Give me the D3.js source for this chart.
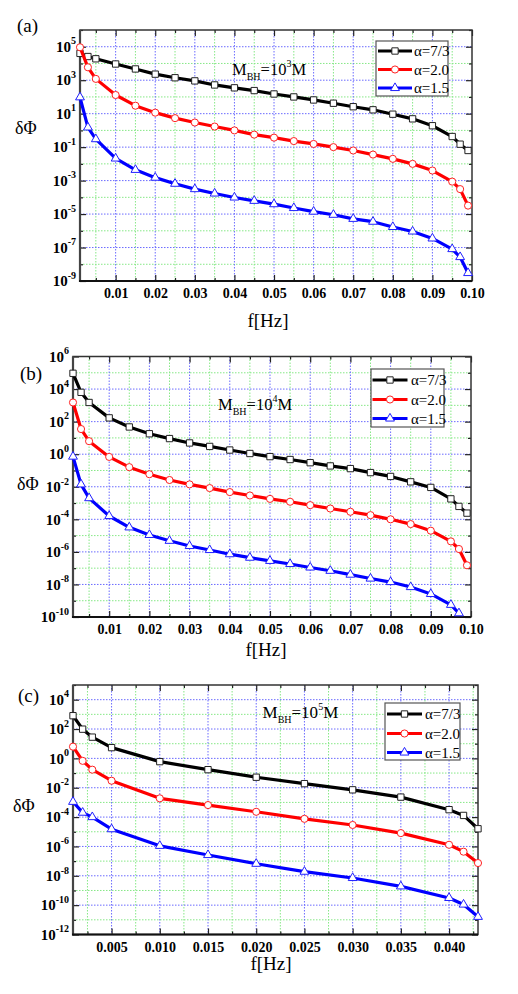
<!DOCTYPE html>
<html><head><meta charset="utf-8">
<script src="https://cdn.jsdelivr.net/npm/d3@7/dist/d3.min.js"></script>
<style>
body{margin:0;background:#fff;}
svg{display:block;font-family:"Liberation Serif","Times New Roman",serif;}
</style>
</head><body>
<svg id="c" width="518" height="994" font-family="Liberation Serif, serif"></svg>
<script>
// ---------------- DATA ----------------
const seriesNames = ["α=7/3", "α=2.0", "α=1.5"];

// panels (a) and (b) share the frequency grid
const freqAB = [0.001,0.003,0.005,0.01,0.015,0.02,0.025,0.03,0.035,0.04,0.045,0.05,0.055,0.06,0.065,0.07,0.075,0.08,0.085,0.09,0.095,0.097,0.099];
const freqC  = [0.001,0.002,0.003,0.005,0.01,0.015,0.02,0.025,0.03,0.035,0.04,0.0415,0.043];

// (a) M_BH = 10^3 M
const a_73 = [4.0e4,2.6e4,1.9e4,9.3e3,4.7e3,2.3e3,1.4e3,910,520,350,240,150,100,66,42,26,17,9.3,4.9,1.9,0.43,0.15,0.063];
const a_20 = [9.3e4,5.9e3,1.2e3,130,30,11.5,5.4,2.95,1.7,1.0,0.56,0.37,0.23,0.155,0.1,0.063,0.036,0.02,0.01,4.0e-3,8.7e-4,3.1e-4,3.2e-5];
const a_15 = [95,1.5,0.30,0.021,4.4e-3,1.5e-3,6.5e-4,3.1e-4,1.7e-4,9.8e-5,6.2e-5,3.9e-5,2.3e-5,1.4e-5,9.1e-6,5.2e-6,3.5e-6,1.7e-6,9.1e-7,3.5e-7,8.1e-8,2.7e-8,3.0e-9];

// (b) M_BH = 10^4 M
const b_73 = [9.3e4,6.3e3,1.5e3,170,47,18,9.1,4.9,3.0,1.8,1.1,0.71,0.47,0.30,0.19,0.13,0.074,0.043,0.020,9.1e-3,1.8e-3,6.2e-4,2.4e-4];
const b_20 = [1.5e3,35,6.3,0.68,0.16,0.059,0.026,0.014,8.3e-3,4.7e-3,2.9e-3,1.8e-3,1.2e-3,7.4e-4,4.6e-4,2.9e-4,1.8e-4,1.0e-4,5.1e-5,2.0e-5,4.4e-6,1.5e-6,1.5e-7];
const b_15 = [0.71,0.014,2.0e-3,1.6e-4,3.2e-5,1.1e-5,4.8e-6,2.3e-6,1.3e-6,7.2e-7,4.4e-7,2.8e-7,1.8e-7,1.1e-7,6.9e-8,4.0e-8,2.3e-8,1.4e-8,6.9e-9,2.6e-9,5.6e-10,1.7e-10,null];

// (c) M_BH = 10^5 M
const c_73 = [810,98,28,5.4,0.60,0.17,0.052,0.019,7.2e-3,2.3e-3,3.2e-4,1.3e-4,1.6e-5];
const c_20 = [6.3,0.68,0.17,0.030,1.9e-3,6.6e-4,2.3e-4,7.6e-5,2.9e-5,8.1e-6,1.3e-6,4.4e-7,7.4e-8];
const c_15 = [1.1e-3,2.0e-4,1.0e-4,1.5e-5,1.1e-6,2.6e-7,6.6e-8,1.9e-8,7.1e-9,1.9e-9,3.1e-10,1.1e-10,1.6e-11];

// tick labels
const xTicksAB = [0.01,0.02,0.03,0.04,0.05,0.06,0.07,0.08,0.09,0.10];
const xTicksC  = [0.005,0.010,0.015,0.020,0.025,0.030,0.035,0.040];
const yExpA = [5,3,1,-1,-3,-5,-7,-9];
const yExpB = [6,4,2,0,-2,-4,-6,-8,-10];
const yExpC = [4,2,0,-2,-4,-6,-8,-10,-12];

// ---------------- STYLE ----------------
const FONT = '"Liberation Serif", "Times New Roman", serif';
const colors = ["#000000","#ff0000","#0000ff"];
const markerStroke = ["#222222","#ff2020","#2020ff"];
const symbols = [d3.symbolSquare, d3.symbolCircle, d3.symbolTriangle];
const symSizes = [40, 40, 34];
const gridMajor = "#6a6aff", gridMinor = "#86e886";

const svg = d3.select("#c");
let clipId = 0;

function drawPanel(o) {
  const g = svg.append("g").attr("font-family", FONT);
  const x = d3.scaleLinear().domain(o.xDomain).range([o.left, o.right]);
  const y = d3.scaleLog().domain(o.yDomain).range([o.bottom, o.top]);

  const step = o.xTicks[1] - o.xTicks[0];
  const minorX = [];
  for (let k = -1; k < 60; k++) {
    const v = +(o.xTicks[0] + (k + 0.5) * step).toFixed(6);
    if (v > o.xDomain[0] && v <= o.xDomain[1] + 1e-9) minorX.push(v);
  }
  const e0 = Math.round(Math.log10(o.yDomain[0])), e1 = Math.round(Math.log10(o.yDomain[1]));
  const allDec = d3.range(e0, e1 + 1).map(e => Math.pow(10, e));
  const majorY = o.yExps.map(e => Math.pow(10, e));
  const minorY = allDec.filter(v => !o.yExps.includes(Math.round(Math.log10(v))));

  // grid
  const grid = g.append("g").attr("fill", "none").attr("stroke-width", 1).attr("stroke-dasharray", "1.5,1.5");
  grid.selectAll(".gxm").data(minorX.filter(v => v < o.xDomain[1] - 1e-9)).join("line")
    .attr("x1", d => x(d)).attr("x2", d => x(d)).attr("y1", o.top).attr("y2", o.bottom).attr("stroke", gridMinor);
  grid.selectAll(".gym").data(minorY.filter(v => v > o.yDomain[0] && v < o.yDomain[1])).join("line")
    .attr("x1", o.left).attr("x2", o.right).attr("y1", d => y(d)).attr("y2", d => y(d)).attr("stroke", gridMinor);
  grid.selectAll(".gxM").data(o.xTicks.filter(v => v < o.xDomain[1] - 1e-9)).join("line")
    .attr("class","gxM").attr("x1", d => x(d)).attr("x2", d => x(d)).attr("y1", o.top).attr("y2", o.bottom).attr("stroke", gridMajor);
  grid.selectAll(".gyM").data(majorY.filter(v => v > o.yDomain[0] && v < o.yDomain[1])).join("line")
    .attr("class","gyM").attr("x1", o.left).attr("x2", o.right).attr("y1", d => y(d)).attr("y2", d => y(d)).attr("stroke", gridMajor);

  // axes ticks (inward)
  const axG = g.append("g");
  function ax(gen, tx, ty, vals, size, fmt, pad) {
    const a = gen.tickValues(vals).tickSize(size).tickSizeOuter(0).tickPadding(pad || 3).tickFormat(fmt || "");
    const s = axG.append("g").attr("transform", `translate(${tx},${ty})`).call(a);
    s.attr("font-family", FONT);
    s.select(".domain").remove();
    s.selectAll(".tick line").attr("stroke", "#222").attr("stroke-width", 1.2);
    return s;
  }
  const xb = ax(d3.axisBottom(x), 0, o.bottom, o.xTicks, -6, o.xFmt, 7.5);
  xb.attr("font-size", 14).attr("font-weight", "bold");
  xb.selectAll("text").attr("font-family", FONT).attr("font-weight", "bold")
    .attr("font-size", 14).attr("fill", "#000");
  ax(d3.axisBottom(x), 0, o.bottom, minorX, -3);
  ax(d3.axisTop(x), 0, o.top, o.xTicks, -6);
  ax(d3.axisTop(x), 0, o.top, minorX, -3);
  ax(d3.axisLeft(y), o.left, 0, majorY, -6);
  ax(d3.axisLeft(y), o.left, 0, minorY, -3);
  ax(d3.axisRight(y), o.right, 0, majorY, -6);
  ax(d3.axisRight(y), o.right, 0, minorY, -3);

  // y labels 10^n
  const yl = g.append("g").attr("font-weight", "bold").attr("fill", "#000").attr("font-family", FONT);
  o.yExps.forEach(e => {
    const t = yl.append("text").attr("x", o.left - 4).attr("y", y(Math.pow(10, e)))
      .attr("text-anchor", "end").attr("font-size", 15);
    t.append("tspan").attr("dy", "0.35em").text("10");
    t.append("tspan").attr("dy", "-0.75em").attr("font-size", 10).text(String(e));
  });

  // frame
  g.append("rect").attr("x", o.left).attr("y", o.top).attr("width", o.right - o.left).attr("height", o.bottom - o.top)
    .attr("fill", "none").attr("stroke", "#333").attr("stroke-width", 1.5);
  g.append("line").attr("x1", o.left).attr("x2", o.left).attr("y1", o.top).attr("y2", o.bottom + 1)
    .attr("stroke", "#444").attr("stroke-width", 2.2);
  g.append("line").attr("x1", o.left - 1).attr("x2", o.right).attr("y1", o.bottom).attr("y2", o.bottom)
    .attr("stroke", "#111").attr("stroke-width", 2.2);

  // clip
  const cid = "clip" + (clipId++);
  g.append("clipPath").attr("id", cid).append("rect")
    .attr("x", o.left - 6).attr("y", o.top).attr("width", o.right - o.left + 12).attr("height", o.bottom - o.top + 6);

  const plot = g.append("g").attr("clip-path", `url(#${cid})`);
  o.series.forEach((vals, i) => {
    const pts = o.freq.map((f, j) => ({ f, v: vals[j] })).filter(d => d.v != null);
    const line = d3.line().x(d => x(d.f)).y(d => y(d.v));
    plot.append("path").datum(pts).attr("d", line).attr("fill", "none")
      .attr("stroke", colors[i]).attr("stroke-width", 3.2).attr("stroke-linejoin", "round");
    plot.selectAll(null).data(pts).join("path")
      .attr("transform", d => `translate(${x(d.f)},${y(d.v)})`)
      .attr("d", d3.symbol().type(symbols[i]).size(symSizes[i]))
      .attr("fill", "#fff").attr("stroke", markerStroke[i]).attr("stroke-width", 1);
  });

  // legend
  const L = o.legend;
  const lg = g.append("g");
  lg.append("rect").attr("x", L.x0).attr("y", L.y0).attr("width", L.x1 - L.x0).attr("height", L.y1 - L.y0)
    .attr("fill", "#fff").attr("stroke", "#555").attr("stroke-width", 1.2);
  seriesNames.forEach((nm, i) => {
    const yy = L.rows[i];
    lg.append("line").attr("x1", L.lx0).attr("x2", L.lx1).attr("y1", yy).attr("y2", yy)
      .attr("stroke", colors[i]).attr("stroke-width", 3.2);
    lg.append("path").attr("transform", `translate(${(L.lx0 + L.lx1) / 2},${yy})`)
      .attr("d", d3.symbol().type(symbols[i]).size(symSizes[i]))
      .attr("fill", "#fff").attr("stroke", markerStroke[i]).attr("stroke-width", 1);
    lg.append("text").attr("x", L.tx).attr("y", yy + 5).attr("font-size", 15).attr("fill", "#000").text(nm);
  });

  // mass annotation
  const m = o.mass;
  const mt = g.append("text").attr("x", m.x).attr("y", m.y).attr("font-size", m.size).attr("fill", "#000");
  mt.append("tspan").text("M");
  mt.append("tspan").attr("font-size", 10).attr("dy", 5).text("BH");
  mt.append("tspan").attr("dy", -5).text("=10");
  mt.append("tspan").attr("font-size", 10).attr("dy", -8).text(m.exp);
  mt.append("tspan").attr("dy", 8).text("M");

  // panel tag and axis titles
  g.append("text").attr("x", o.tag.x).attr("y", o.tag.y).attr("font-size", 19).attr("fill", "#000").text(o.tag.t);
  g.append("text").attr("x", o.ylab.x).attr("y", o.ylab.y).attr("font-size", 18).attr("fill", "#000").text("δΦ");
  g.append("text").attr("x", o.xlab.x).attr("y", o.xlab.y).attr("font-size", 19).attr("fill", "#000")
    .attr("text-anchor", "middle").text("f[Hz]");
}

drawPanel({
  left: 80, right: 472, top: 30, bottom: 281,
  xDomain: [0.001, 0.1], yDomain: [1e-9, 1e6],
  xTicks: xTicksAB, xFmt: d3.format(".2f"), yExps: yExpA,
  freq: freqAB, series: [a_73, a_20, a_15],
  legend: { x0: 376, x1: 448, y0: 41, y1: 96, rows: [51, 69.5, 88], lx0: 378, lx1: 412, tx: 414 },
  mass: { x: 232, y: 75, exp: "3", size: 16.5 },
  tag: { x: 17, y: 32, t: "(a)" },
  ylab: { x: 15, y: 134 },
  xlab: { x: 268, y: 327 }
});

drawPanel({
  left: 73, right: 471, top: 356.5, bottom: 617,
  xDomain: [0.001, 0.1], yDomain: [1e-10, 1e6],
  xTicks: xTicksAB, xFmt: d3.format(".2f"), yExps: yExpB,
  freq: freqAB, series: [b_73, b_20, b_15],
  legend: { x0: 371, x1: 444, y0: 369, y1: 427, rows: [380, 399.5, 418.5], lx0: 372.5, lx1: 407.5, tx: 411 },
  mass: { x: 218, y: 410, exp: "4", size: 16.5 },
  tag: { x: 20, y: 380, t: "(b)" },
  ylab: { x: 17, y: 490 },
  xlab: { x: 266, y: 656 }
});

drawPanel({
  left: 73, right: 478, top: 685, bottom: 934.5,
  xDomain: [0.001, 0.043], yDomain: [1e-12, 1e5],
  xTicks: xTicksC, xFmt: d3.format(".3f"), yExps: yExpC,
  freq: freqC, series: [c_73, c_20, c_15],
  legend: { x0: 385, x1: 460, y0: 703, y1: 760, rows: [714, 733.5, 752.5], lx0: 387, lx1: 422, tx: 425 },
  mass: { x: 262.5, y: 718, exp: "5", size: 17 },
  tag: { x: 18, y: 702, t: "(c)" },
  ylab: { x: 13, y: 812 },
  xlab: { x: 271, y: 970 }
});
</script>
</body></html>
